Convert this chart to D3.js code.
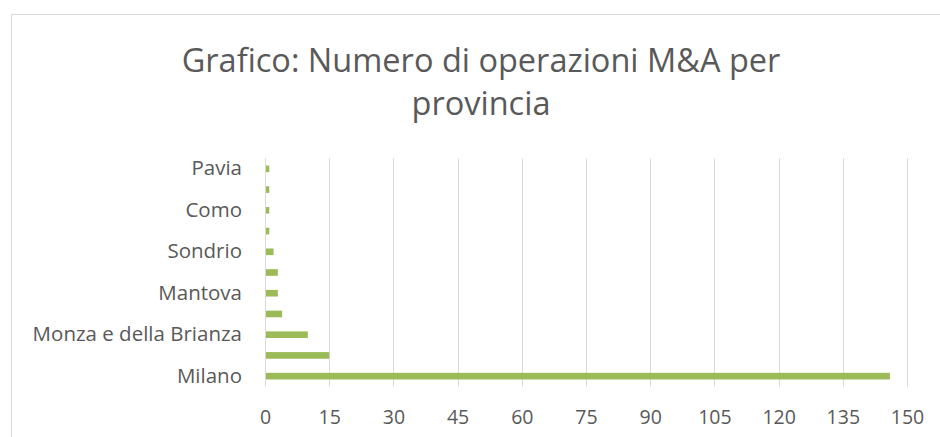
<!DOCTYPE html>
<html>
<head>
<meta charset="utf-8">
<script src="https://cdn.jsdelivr.net/npm/d3@7/dist/d3.min.js"></script>
<style>
html,body{margin:0;padding:0;background:#fff;}
svg{display:block;}
text{font-family:"Open Sans",sans-serif;fill:#595959;}
</style>
</head>
<body>
<svg id="chart" width="940" height="437"></svg>
<script>
const categories = ["Milano","Brescia","Monza e della Brianza","Bergamo","Mantova","Varese","Sondrio","Lecco","Como","Cremona","Pavia"];
const values = [146, 15, 10, 4, 3, 3, 2, 1, 1, 1, 1];
const xTicks = [0,15,30,45,60,75,90,105,120,135,150];
const titleLines = ["Grafico: Numero di operazioni M&A per","provincia"];

const svg = d3.select("#chart");
// chart area border
svg.append("rect").attr("x",11.5).attr("y",14.5).attr("width",945).attr("height",440)
  .attr("fill","#fff").attr("stroke","#d9d9d9").attr("stroke-width",1);

const m = {left:265, right:907, top:158.5, bottom:386.5};
const x = d3.scaleLinear().domain([0,150]).range([m.left,m.right]);
const y = d3.scaleBand().domain(categories.map((d,i)=>i)).range([m.bottom,m.top]).paddingInner(0.68).paddingOuter(0.34);

// gridlines
svg.append("g").selectAll("line").data(xTicks).join("line")
  .attr("x1",d=>Math.round(x(d))+0.5).attr("x2",d=>Math.round(x(d))+0.5)
  .attr("y1",m.top).attr("y2",m.bottom)
  .attr("stroke","#d9d9d9").attr("stroke-width",1);

// bars
svg.append("g").selectAll("rect").data(values).join("rect")
  .attr("x",x(0)+1).attr("y",(d,i)=>y(i)).attr("width",d=>x(d)-x(0)-1).attr("height",y.bandwidth())
  .attr("fill","#9bbb59");

// x axis
const xAxis = d3.axisBottom(x).tickValues(xTicks).tickSize(0).tickPadding(24);
const gx = svg.append("g").attr("transform",`translate(0,${m.bottom})`).call(xAxis);
gx.select(".domain").remove();
gx.selectAll("text").style("font-size","19.5px").attr("fill","#595959").style("font-family","'Open Sans',sans-serif");

// y axis (every other label shown, like the original)
const yAxis = d3.axisLeft(y).tickSize(0).tickPadding(23).tickFormat(i=> i%2===0 ? categories[i] : "");
const gy = svg.append("g").attr("transform",`translate(${m.left},0)`).call(yAxis);
gy.select(".domain").remove();
gy.selectAll("text").style("font-size","20.5px").attr("fill","#595959").style("font-family","'Open Sans',sans-serif");

// title
svg.append("text").attr("x",481).attr("y",72).attr("text-anchor","middle")
  .style("font-size","32.5px").text(titleLines[0]);
svg.append("text").attr("x",481).attr("y",115).attr("text-anchor","middle")
  .style("font-size","32.5px").text(titleLines[1]);
</script>
</body>
</html>
